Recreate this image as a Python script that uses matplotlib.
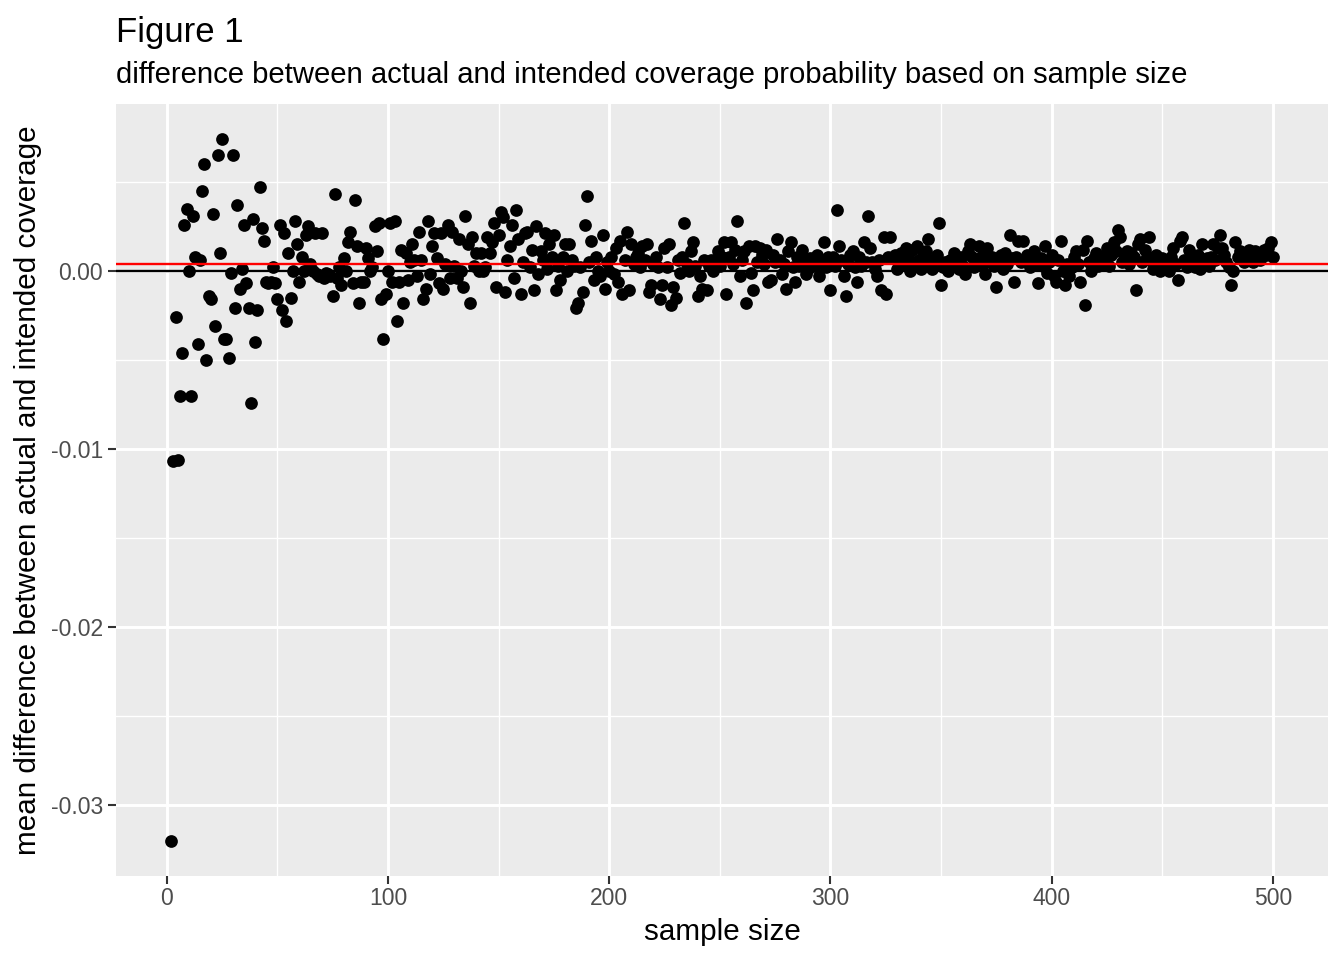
import numpy as np
import matplotlib
matplotlib.use("Agg")
import matplotlib.pyplot as plt

plt.rcParams['font.family'] = ['Liberation Sans', 'DejaVu Sans']

# tamaños de muestra 2..500 (un punto por tamaño)
sample_size = np.arange(2, 501)

# diferencia media (en milésimas), n = 2..500
diff_milli = [
    -32.0, -10.7, -2.6, -10.6, -7.0, -4.6, 2.6, 3.5, 0.0,          # 2-10
    -7.0, 3.1, 0.8, -4.1, 0.6, 4.5, 6.0, -5.0, -1.4, -1.6,         # 11-20
    3.2, -3.1, 6.5, 1.0, 7.4, -3.8, -3.8, -4.9, -0.1, 6.5,         # 21-30
    -2.1, 3.7, -1.0, 0.1, 2.6, -0.7, -2.1, -7.4, 2.9, -4.0,        # 31-40
    -2.2, 4.7, 2.4, 1.7, -0.6, -0.7, -0.6, 0.2, -0.7, -1.6,        # 41-50
    2.6, -2.2, 2.1, -2.8, 1.0, -1.5, 0.0, 2.8, 1.5, -0.6,          # 51-60
    0.8, 0.0, 2.0, 2.5, 0.4, 0.0, 2.1, -0.2, -0.3, 2.1,            # 61-70
    -0.4, -0.1, -0.2, -0.3, -1.4, 4.3, -0.4, 0.2, -0.8, 0.7,       # 71-80
    0.0, 1.6, 2.2, -0.7, 4.0, 1.4, -1.8, -0.6, -0.6, 1.3,          # 81-90
    0.7, 0.0, 0.2, 2.5, 1.1, 2.7, -1.6, -3.8, -1.3, 0.0,           # 91-100
    2.7, -0.6, 2.8, -2.8, -0.6, 1.2, -1.8, 1.0, -0.5, 0.5,         # 101-110
    1.5, 0.6, -0.3, 2.2, 0.6, -1.6, -1.0, 2.8, -0.2, 1.4,          # 111-120
    2.1, 0.7, -0.7, 2.1, -1.0, 0.4, 2.6, -0.4, 2.2, 0.3,           # 121-130
    -0.4, 1.8, 0.0, -0.9, 3.1, 1.5, -1.8, 1.9, 0.3, 1.0,           # 131-140
    0.0, 1.0, 0.0, 0.2, 1.9, 1.0, 1.6, 2.7, -0.9, 2.0,             # 141-150
    3.3, 3.0, -1.2, 0.6, 1.4, 2.6, -0.4, 3.4, 1.8, -1.3,           # 151-160
    0.5, 2.1, 2.2, 0.2, 1.2, -1.1, 2.5, -0.2, 1.1, 0.6,            # 161-170
    2.1, 0.1, 1.5, 0.8, 2.0, -1.1, 0.3, -0.5, 0.8, 1.5,            # 171-180
    0.0, 1.5, 0.6, 0.3, -2.1, -1.8, 0.2, -1.2, 2.6, 4.2,           # 181-190
    0.5, 1.7, -0.5, 0.8, 0.0, -0.3, 2.0, -1.0, 0.5, 0.0,           # 191-200
    0.8, -0.2, 1.3, -0.6, 1.7, -1.3, 0.6, 2.2, -1.1, 1.5,          # 201-210
    0.4, 0.8, 1.0, 0.2, 1.4, 0.6, 1.5, -1.2, -0.8, 0.4,            # 211-220
    0.8, 0.2, -1.6, -0.8, 1.3, 0.2, 1.5, -1.9, -0.9, -1.5,         # 221-230
    0.6, -0.1, 0.8, 2.7, 0.4, 0.0, 1.1, 1.6, 0.3, -1.4,            # 231-240
    -0.3, -1.0, 0.6, -1.1, 0.3, 0.6, 0.0, 0.5, 1.1, 0.3,           # 241-250
    0.8, 1.6, -1.3, 0.8, 1.6, 0.4, 1.2, 2.8, -0.3, 0.6,            # 251-260
    1.1, -1.8, 1.4, -0.1, -1.1, 1.4, 0.5, 1.3, 0.9, 0.4,           # 261-270
    1.2, -0.6, -0.5, 0.9, 0.5, 1.8, 0.6, -0.2, 0.4, -1.0,          # 271-280
    1.1, 1.6, 0.2, -0.6, 0.8, 0.3, 1.2, 0.6, -0.2, 0.1,            # 281-290
    0.7, 0.4, 0.3, 0.9, -0.3, 0.5, 1.6, 0.2, 0.8, -1.1,            # 291-300
    0.8, 0.3, 3.4, 1.4, 0.6, -0.3, -1.4, 0.4, 0.9, 1.1,            # 301-310
    0.2, -0.6, 0.8, 0.3, 1.6, 0.5, 3.1, 1.3, 0.5, 0.1,             # 311-320
    -0.3, 0.6, -1.1, 1.9, -1.3, 0.8, 1.9, 0.7, 0.9, 0.1,           # 321-330
    0.6, 1.0, 0.4, 1.3, 0.7, 0.0, 1.2, 0.5, 1.4, 0.6,              # 331-340
    0.1, 0.9, 1.1, 1.8, 0.5, 0.1, 0.6, 0.9, 2.7, -0.8,             # 341-350
    0.2, 0.5, 0.0, 0.6, 0.3, 1.0, 0.4, 0.1, 0.8, 0.3,              # 351-360
    -0.2, 1.1, 1.5, 0.8, 0.2, 0.6, 1.4, 0.8, 0.4, -0.2,            # 361-370
    1.3, 0.5, 0.8, 0.3, -0.9, 0.5, 0.9, 0.1, 1.0, 0.4,             # 371-380
    2.0, 0.7, -0.6, 0.8, 1.7, 0.5, 1.7, 0.6, 0.9, 0.2,             # 381-390
    0.7, 1.1, 0.4, -0.7, 0.7, 0.3, 1.4, -0.1, 0.5, 0.9,            # 391-400
    -0.3, -0.6, 0.6, 1.7, 0.0, -0.8, 0.4, -0.3, 0.2, 0.8,          # 401-410
    1.1, 0.4, -0.6, 1.2, -1.9, 1.7, 0.5, 0.0, 0.7, 1.0,            # 411-420
    0.3, 0.6, 0.8, 0.4, 1.3, 0.3, 0.9, 1.6, 1.1, 2.3,              # 421-430
    1.9, 0.5, 0.8, 1.1, 0.4, 1.0, 0.8, -1.1, 1.5, 1.8,             # 431-440
    0.5, 1.2, 0.8, 1.9, 0.6, 0.1, 0.9, 0.4, 0.0, 0.7,              # 441-450
    0.5, 0.2, 0.0, 0.8, 1.3, 0.4, -0.5, 1.7, 1.9, 0.6,             # 451-460
    0.2, 1.2, 0.4, 0.7, 0.2, 0.9, 0.1, 1.5, 0.5, 0.7,              # 461-470
    0.3, 0.8, 1.5, 0.6, 1.3, 2.0, 1.3, 0.9, 0.5, 0.2,              # 471-480
    -0.8, 0.0, 1.6, 0.8, 1.1, 0.8, 0.5, 1.0, 1.2, 0.7,             # 481-490
    0.5, 1.1, 0.8, 0.6, 1.0, 1.2, 0.9, 1.3, 1.6, 0.8,              # 491-500
]
diferencia = np.array(diff_milli) / 1000

linea_media = 0.00038   # linea roja
x_ticks = [0, 100, 200, 300, 400, 500]
y_ticks = [-0.03, -0.02, -0.01, 0.00]
y_labels = ['-0.03', '-0.02', '-0.01', '0.00']

titulo = 'Figure 1'
subtitulo = 'difference between actual and intended coverage probability based on sample size'

fig = plt.figure(figsize=(13.44, 9.6), dpi=100)
ax = fig.add_axes([116/1344, 1 - 876/960, (1328 - 116)/1344, (876 - 104)/960])

# estilo tipo ggplot
ax.set_facecolor('#EBEBEB')
for s in ax.spines.values():
    s.set_visible(False)

ax.scatter(sample_size, diferencia, s=84, color='black', linewidths=0, zorder=3)
ax.axhline(0, color='black', lw=1.7, zorder=4)
ax.axhline(linea_media, color='red', lw=1.7, zorder=5)

# limites con expansion del 5%
xr = sample_size.max() - sample_size.min()
ax.set_xlim(sample_size.min() - 0.05*xr, sample_size.max() + 0.05*xr)
yr = diferencia.max() - diferencia.min()
ax.set_ylim(diferencia.min() - 0.05*yr, diferencia.max() + 0.05*yr)

ax.set_xticks(x_ticks)
ax.set_xticklabels([str(t) for t in x_ticks])
ax.set_yticks(y_ticks)
ax.set_yticklabels(y_labels)
ax.set_xticks([50, 150, 250, 350, 450], minor=True)
ax.set_yticks([-0.025, -0.015, -0.005, 0.005], minor=True)

ax.grid(which='major', color='white', lw=2.1, zorder=0)
ax.grid(which='minor', color='white', lw=1.0, zorder=0)
ax.set_axisbelow(True)
ax.tick_params(which='major', length=5.5, width=1.5, color='#333333',
               labelsize=16.5, labelcolor='#4D4D4D')
ax.tick_params(axis='x', which='major', pad=2.5)
ax.tick_params(axis='y', which='major', pad=4)
ax.tick_params(which='minor', length=0)

ax.set_xlabel('sample size', fontsize=21.3, labelpad=6)
ax.set_ylabel('mean difference between actual and intended coverage', fontsize=21.3, labelpad=6)

fig.text(116/1344, 1 - 42/960, titulo, fontsize=25, va='baseline', ha='left')
fig.text(116/1344, 1 - 83/960, subtitulo, fontsize=21.1, va='baseline', ha='left')

fig.savefig('out.png', dpi=100)
